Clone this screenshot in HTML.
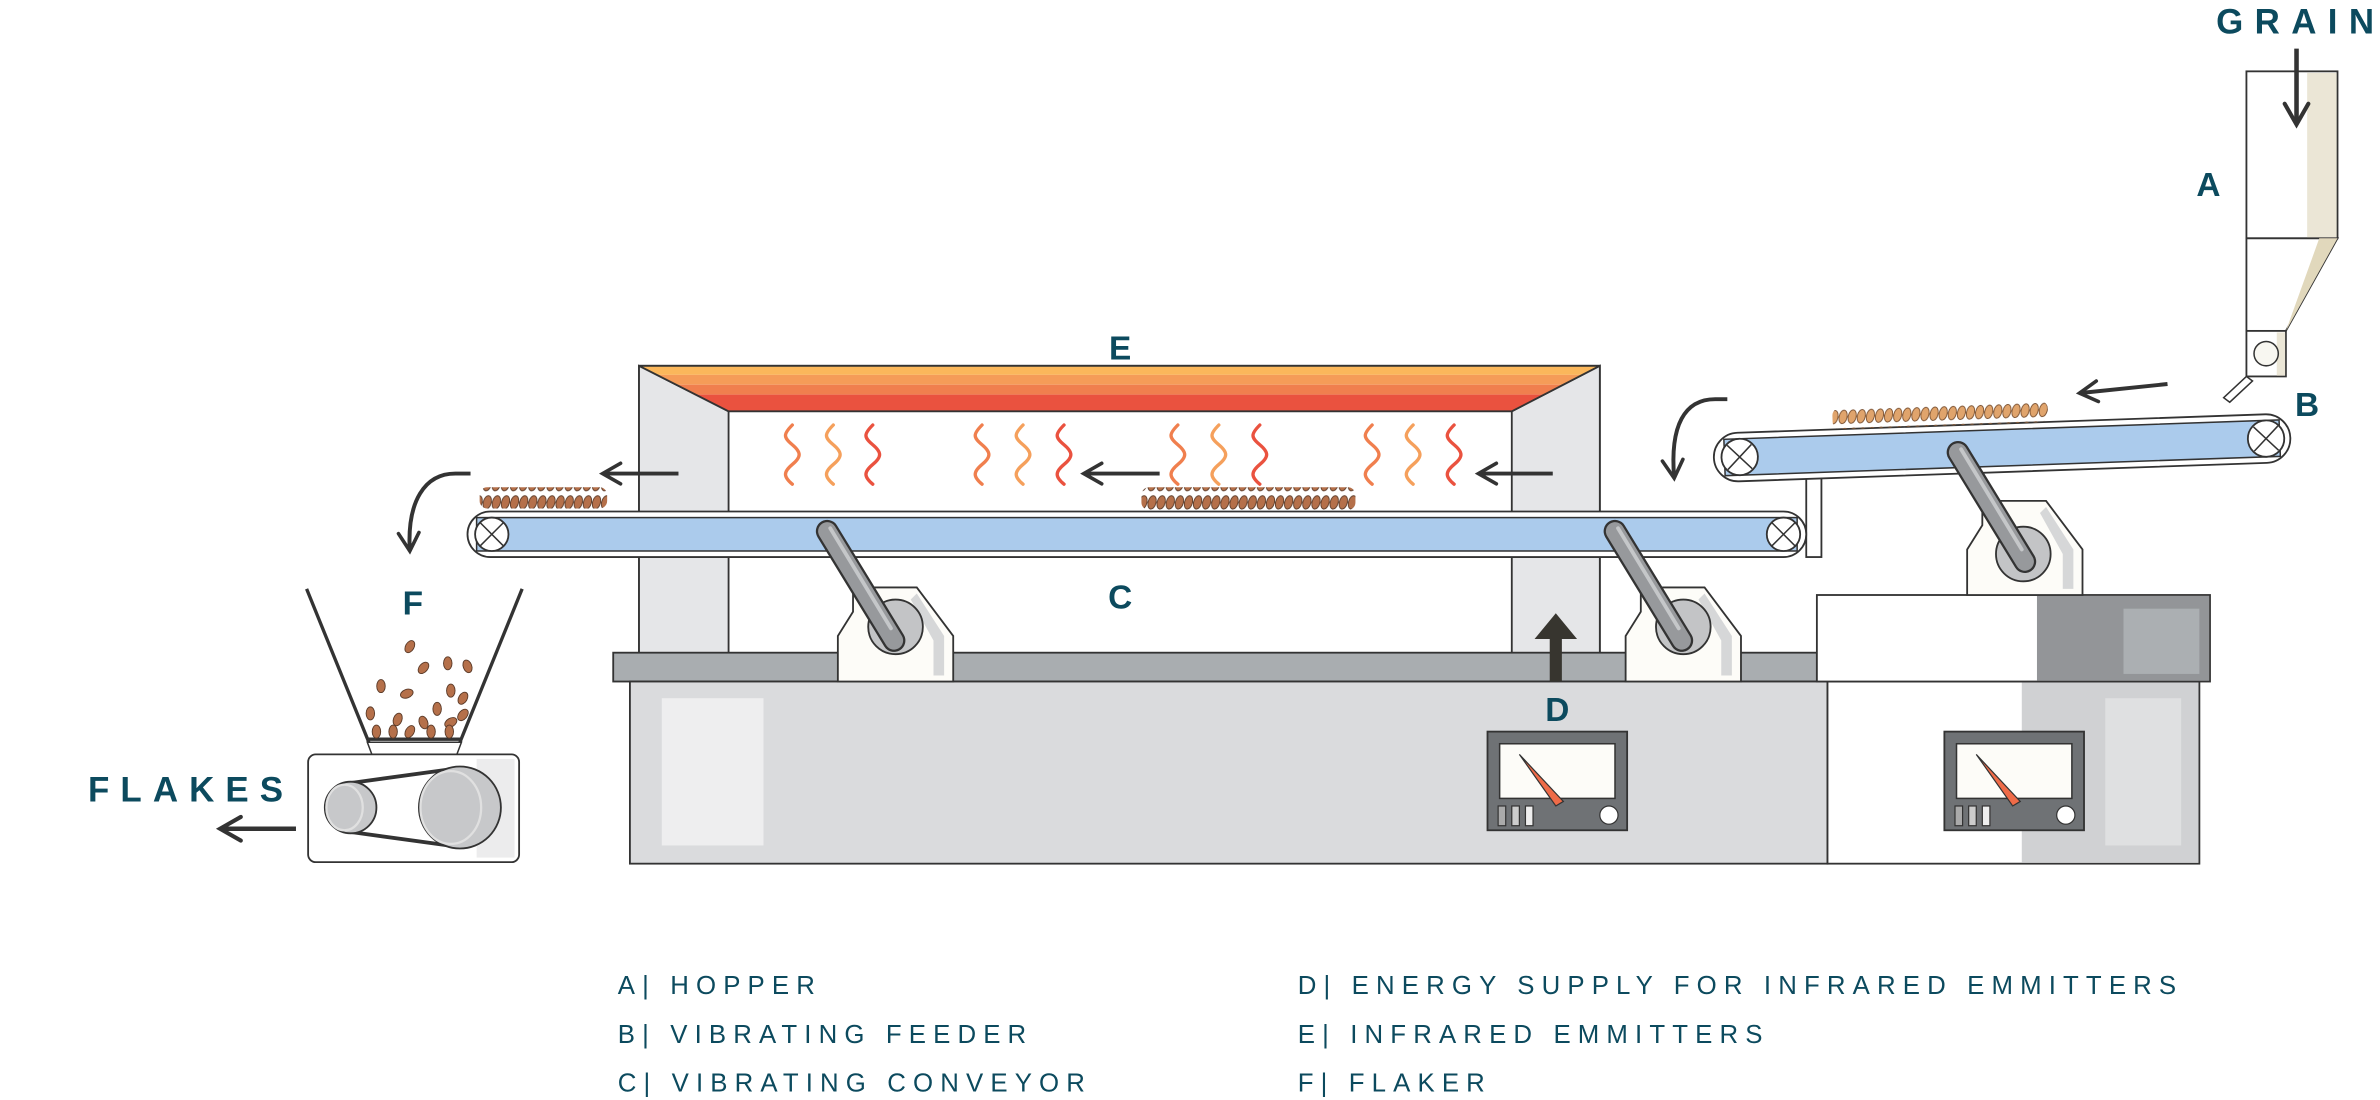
<!DOCTYPE html>
<html><head><meta charset="utf-8"><style>html,body{margin:0;padding:0;background:#fff}svg{display:block}</style></head><body>
<svg width="2380" height="1100" viewBox="0 0 1568 724.7" xmlns="http://www.w3.org/2000/svg" font-family="Liberation Sans, sans-serif">
<defs>
<marker id="ah" viewBox="0 0 10 10" refX="8" refY="5" markerWidth="6.5" markerHeight="6.5" orient="auto"><path d="M1,1 L8,5 L1,9" fill="none" stroke="#333" stroke-width="1.4" stroke-linecap="round"/></marker>
<pattern id="gr" width="6" height="12" patternUnits="userSpaceOnUse"><ellipse cx="3" cy="7" rx="2.6" ry="4.5" fill="#b5704a" stroke="#5a3a28" stroke-width=".6" transform="rotate(15 3 7)"/></pattern>
<pattern id="gr2" width="6" height="12" patternUnits="userSpaceOnUse"><ellipse cx="3" cy="7" rx="2.6" ry="4.5" fill="#e0a46c" stroke="#7a5030" stroke-width=".6" transform="rotate(15 3 7)"/></pattern>
<g id="wave"><path d="M0,0 c-6,6 -6,8 0,13 c6,5 6,8 0,13 c-6,5 -6,8 0,13" fill="none" stroke-width="2.2" stroke-linecap="round"/></g>
<g id="arm"><path d="M0,0 L44,72" stroke="#333" stroke-width="15" stroke-linecap="round"/><path d="M0,0 L44,72" stroke="#97999c" stroke-width="12" stroke-linecap="round"/><path d="M2,-2 L42,64" stroke="#c5c7c9" stroke-width="2.5" stroke-linecap="round"/></g>
<g id="gauge"><rect x="0" y="0" width="92" height="65" fill="#6f7275" stroke="#333" stroke-width="1.2"/><rect x="8" y="8" width="76" height="36" fill="#fdfcf8" stroke="#333" stroke-width="1"/><path d="M21,15 L50,46 L45,49 Z" fill="#ef6b48" stroke="#333" stroke-width=".8"/><rect x="7" y="49" width="5" height="13" fill="#aaa" stroke="#333" stroke-width=".8"/><rect x="16" y="49" width="5" height="13" fill="#ccc" stroke="#333" stroke-width=".8"/><rect x="25" y="49" width="5" height="13" fill="#eee" stroke="#333" stroke-width=".8"/><ellipse cx="80" cy="55" rx="6" ry="6" fill="#fff" stroke="#333" stroke-width=".8"/></g>
<g id="stand"><path d="M0,32 L10,16 L10,0 L52,0 L76,32 L76,62 L0,62 Z" fill="#fdfcf8" stroke="#333" stroke-width="1.2"/><path d="M52,4 L70,32 L70,58 L63,58 L63,35 L48,8 Z" fill="#d6d7d8"/></g>
</defs>

<!-- hopper -->
<rect x="1480" y="47" width="60" height="110" fill="#fff" stroke="#333" stroke-width="1.2"/>
<rect x="1520" y="48" width="19.4" height="108.4" fill="#ebe6d6"/>
<path d="M1480,157 L1540,157 L1506,218 L1480,218 Z" fill="#fff" stroke="#333" stroke-width="1.2"/>
<path d="M1540,157 L1528,157 L1506,218 L1506,218 Z" fill="#e1d8bc"/>
<rect x="1480" y="218" width="26" height="30" fill="#fff" stroke="#333" stroke-width="1.2"/>
<rect x="1500" y="219" width="5.5" height="28.5" fill="#ebe6d6"/>
<circle cx="1493" cy="233" r="8" fill="#f8f7f1" stroke="#333" stroke-width="1"/>
<path d="M1480,248 L1465,262 L1469,265 L1484,251 Z" fill="#fff" stroke="#333" stroke-width="1"/>
<text x="1460" y="22" font-size="23" font-weight="bold" fill="#0c4a5e" letter-spacing="7.5">GRAIN</text>
<line x1="1513" y1="32" x2="1513" y2="82" stroke="#333" stroke-width="3" marker-end="url(#ah)"/>
<text x="1447" y="129" font-size="22" font-weight="bold" fill="#0c4a5e">A</text>
<text x="1512" y="274" font-size="22" font-weight="bold" fill="#0c4a5e">B</text>

<!-- heater frame -->
<rect x="421" y="241" width="633" height="190" fill="#fff" stroke="#333" stroke-width="1.2"/>
<path d="M421,241 L480,271 L480,431 L421,431 Z" fill="#e5e6e8" stroke="#333" stroke-width="1.2"/>
<path d="M1054,241 L996,271 L996,431 L1054,431 Z" fill="#e5e6e8" stroke="#333" stroke-width="1.2"/>
<path d="M421,241 L1054,241 L1042,247 L433,247 Z" fill="#fbb75b"/>
<path d="M433,247 L1042,247 L1030,253.5 L445,253.5 Z" fill="#f59c58"/>
<path d="M445,253.5 L1030,253.5 L1018,260 L457,260 Z" fill="#f07f4e"/>
<path d="M457,260 L1018,260 L996,271 L480,271 Z" fill="#ea523f"/>
<path d="M421,241 L1054,241 L996,271 L480,271 Z" fill="none" stroke="#333" stroke-width="1.2"/>
<g>
<use href="#wave" x="522" y="280" stroke="#f07f4e"/><use href="#wave" x="549" y="280" stroke="#f5a05c"/><use href="#wave" x="575" y="280" stroke="#ea523f"/>
<use href="#wave" x="647" y="280" stroke="#f07f4e"/><use href="#wave" x="674" y="280" stroke="#f5a05c"/><use href="#wave" x="701" y="280" stroke="#ea523f"/>
<use href="#wave" x="776" y="280" stroke="#f07f4e"/><use href="#wave" x="803" y="280" stroke="#f5a05c"/><use href="#wave" x="830" y="280" stroke="#ea523f"/>
<use href="#wave" x="904" y="280" stroke="#f07f4e"/><use href="#wave" x="931" y="280" stroke="#f5a05c"/><use href="#wave" x="958" y="280" stroke="#ea523f"/>
</g>
<line x1="447" y1="312" x2="397" y2="312" stroke="#333" stroke-width="2.6" marker-end="url(#ah)"/>
<line x1="764" y1="312" x2="714" y2="312" stroke="#333" stroke-width="2.6" marker-end="url(#ah)"/>
<line x1="1023" y1="312" x2="974" y2="312" stroke="#333" stroke-width="2.6" marker-end="url(#ah)"/>
<text x="738" y="237" font-size="22" font-weight="bold" fill="#0c4a5e" text-anchor="middle">E</text>

<!-- table & base -->
<rect x="404" y="430" width="793" height="19" fill="#a9adb0" stroke="#333" stroke-width="1.2"/>
<rect x="415" y="449" width="789" height="120" fill="#dadbdd" stroke="#333" stroke-width="1.2"/>
<rect x="436" y="460" width="67" height="97" fill="#eeeeef"/>
<rect x="1204" y="449" width="245" height="120" fill="#fff" stroke="#333" stroke-width="1.2"/>
<rect x="1332" y="449.6" width="116.4" height="118.8" fill="#d0d1d3"/>
<rect x="1387" y="460" width="50" height="97" fill="#dfe0e1"/>
<rect x="1197" y="392" width="259" height="57" fill="#fff" stroke="#333" stroke-width="1.2"/>
<rect x="1342" y="392.6" width="113.4" height="55.8" fill="#939598"/>
<rect x="1399" y="401" width="50" height="43" fill="#abafb2"/>
<use href="#gauge" x="980" y="482"/>
<use href="#gauge" x="1281" y="482"/>
<path d="M1021,449 L1021,421 L1011,421 L1025,404 L1039,421 L1029,421 L1029,449 Z" fill="#37352f"/>
<text x="1026" y="475" font-size="22" font-weight="bold" fill="#0c4a5e" text-anchor="middle">D</text>

<!-- stands -->
<use href="#stand" x="552" y="387"/>
<use href="#stand" x="1071" y="387"/>
<use href="#stand" x="1296" y="330"/>
<rect x="1190" y="315" width="10" height="52" fill="#fff" stroke="#333" stroke-width="1.2"/>

<!-- main conveyor -->
<rect x="308" y="337" width="882" height="30" rx="15" fill="#fff" stroke="#333" stroke-width="1.2"/>
<rect x="314" y="341" width="870" height="22" fill="#abcbec" stroke="#333" stroke-width="1"/>
<circle cx="324" cy="352" r="11" fill="#fff" stroke="#333" stroke-width="1.2"/><path d="M316,344 L332,360 M332,344 L316,360" stroke="#333" stroke-width="1"/>
<circle cx="1175" cy="352" r="11" fill="#fff" stroke="#333" stroke-width="1.2"/><path d="M1167,344 L1183,360 M1183,344 L1167,360" stroke="#333" stroke-width="1"/>
<rect x="752" y="321" width="141" height="15" rx="5" fill="url(#gr)"/>
<rect x="316" y="321" width="84" height="14" rx="5" fill="url(#gr)"/>
<circle cx="590" cy="413" r="18" fill="#c3c4c6" stroke="#333" stroke-width="1.2"/>
<use href="#arm" x="545" y="350"/>
<circle cx="1109" cy="413" r="18" fill="#c3c4c6" stroke="#333" stroke-width="1.2"/>
<use href="#arm" x="1064" y="350"/>
<text x="738" y="401" font-size="22" font-weight="bold" fill="#0c4a5e" text-anchor="middle">C</text>

<!-- feeder conveyor -->
<g transform="rotate(-2 1320 294)">
<rect x="1129" y="279" width="380" height="32" rx="16" fill="#fff" stroke="#333" stroke-width="1.2"/>
<rect x="1136" y="283" width="366" height="24" fill="#abcbec" stroke="#333" stroke-width="1"/>
<circle cx="1146" cy="295" r="12" fill="#fff" stroke="#333" stroke-width="1.2"/><path d="M1138,287 L1154,303 M1154,287 L1138,303" stroke="#333" stroke-width="1"/>
<circle cx="1493" cy="295" r="12" fill="#fff" stroke="#333" stroke-width="1.2"/><path d="M1485,287 L1501,303 M1501,287 L1485,303" stroke="#333" stroke-width="1"/>
<rect x="1208" y="265" width="142" height="14" rx="5" fill="url(#gr2)"/>
</g>
<circle cx="1333" cy="365" r="18" fill="#c3c4c6" stroke="#333" stroke-width="1.2"/>
<use href="#arm" x="1290" y="298"/>
<line x1="1428" y1="253" x2="1370" y2="259" stroke="#333" stroke-width="2.6" marker-end="url(#ah)"/>
<path d="M1138,263 L1130,263 C1110,263 1100,280 1103,315" fill="none" stroke="#333" stroke-width="2.6" marker-end="url(#ah)"/>
<path d="M310,312 L300,312 C280,312 268,330 270,363" fill="none" stroke="#333" stroke-width="2.6" marker-end="url(#ah)"/>

<!-- flaker -->
<line x1="202" y1="388" x2="243" y2="489" stroke="#333" stroke-width="2.2"/>
<line x1="344" y1="388" x2="303" y2="489" stroke="#333" stroke-width="2.2"/>
<line x1="242" y1="487" x2="304" y2="487" stroke="#333" stroke-width="2.2"/>
<path d="M242,489 L304,489 L301,497 L245,497 Z" fill="#fff" stroke="#333" stroke-width="1"/>
<text x="272" y="405" font-size="22" font-weight="bold" fill="#0c4a5e" text-anchor="middle">F</text>
<g fill="#b5704a" stroke="#5a3a28" stroke-width=".6">
<ellipse cx="270" cy="426" rx="2.8" ry="4.3" transform="rotate(30 270 426)"/>
<ellipse cx="279" cy="440" rx="2.8" ry="4.3" transform="rotate(40 279 440)"/><ellipse cx="295" cy="437" rx="2.8" ry="4.3"/><ellipse cx="308" cy="439" rx="2.8" ry="4.3" transform="rotate(-20 308 439)"/>
<ellipse cx="251" cy="452" rx="2.8" ry="4.3"/><ellipse cx="268" cy="457" rx="2.8" ry="4.3" transform="rotate(70 268 457)"/><ellipse cx="297" cy="455" rx="2.8" ry="4.3"/><ellipse cx="305" cy="460" rx="2.8" ry="4.3" transform="rotate(30 305 460)"/>
<ellipse cx="244" cy="470" rx="2.8" ry="4.3"/><ellipse cx="288" cy="467" rx="2.8" ry="4.3"/><ellipse cx="262" cy="474" rx="2.8" ry="4.3" transform="rotate(20 262 474)"/>
<ellipse cx="279" cy="476" rx="2.8" ry="4.3" transform="rotate(-20 279 476)"/><ellipse cx="297" cy="476" rx="2.8" ry="4.3" transform="rotate(60 297 476)"/><ellipse cx="305" cy="471" rx="2.8" ry="4.3" transform="rotate(40 305 471)"/>
<ellipse cx="248" cy="482" rx="2.8" ry="4.3"/><ellipse cx="259" cy="482" rx="2.8" ry="4.3"/><ellipse cx="270" cy="482" rx="2.8" ry="4.3" transform="rotate(30 270 482)"/><ellipse cx="284" cy="482" rx="2.8" ry="4.3"/><ellipse cx="296" cy="482" rx="2.8" ry="4.3"/>
</g>
<rect x="203" y="497" width="139" height="71" rx="5" fill="#fff" stroke="#333" stroke-width="1.2"/>
<rect x="314" y="500" width="25" height="65" fill="#ececed"/>
<path d="M230,516 L303,506 M230,548 L303,558" stroke="#333" stroke-width="2.5"/>
<ellipse cx="231" cy="532" rx="17" ry="17" fill="#c7c8ca" stroke="#333" stroke-width="1.2"/>
<ellipse cx="227" cy="532" rx="12" ry="15" fill="#c7c8ca" stroke="#e0e0e0" stroke-width="1.5"/>
<ellipse cx="303" cy="532" rx="27" ry="27" fill="#c7c8ca" stroke="#333" stroke-width="1.2"/>
<ellipse cx="297" cy="532" rx="20" ry="24" fill="#c7c8ca" stroke="#e0e0e0" stroke-width="1.5"/>
<text x="58" y="528" font-size="23" font-weight="bold" fill="#0c4a5e" letter-spacing="7.3">FLAKES</text>
<line x1="195" y1="546" x2="145" y2="546" stroke="#333" stroke-width="3" marker-end="url(#ah)"/>

<!-- legend -->
<g font-size="17" fill="#0c4a5e" letter-spacing="4.7">
<text x="407" y="655">A| HOPPER</text>
<text x="407" y="687">B| VIBRATING FEEDER</text>
<text x="407" y="719">C| VIBRATING CONVEYOR</text>
<text x="855" y="655">D| ENERGY SUPPLY FOR INFRARED EMMITTERS</text>
<text x="855" y="687">E| INFRARED EMMITTERS</text>
<text x="855" y="719">F| FLAKER</text>
</g>
</svg>
</body></html>
